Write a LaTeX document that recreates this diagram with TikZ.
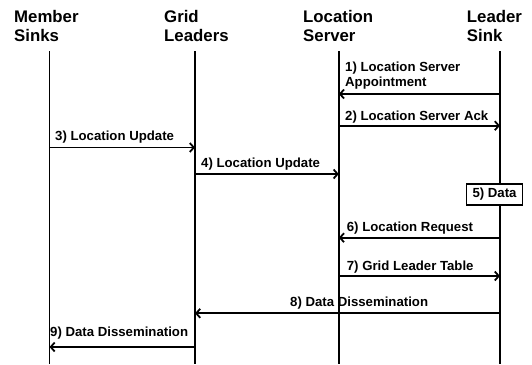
\documentclass[tikz,border=0pt]{standalone}
\usepackage{fontspec}
\setmainfont{Liberation Sans}
\usetikzlibrary{positioning,calc,arrows.meta}

\begin{document}
\begin{tikzpicture}[x=1pt,y=-1pt]
\tikzstyle{head}=[anchor=base west,inner sep=0pt,align=left,font=\bfseries\fontsize{16.8}{19}\selectfont]
\tikzstyle{lbl}=[anchor=base west,inner sep=0pt,align=left,font=\bfseries\fontsize{13.2}{15.5}\selectfont]
\tikzstyle{life}=[line width=1.8pt]
\tikzstyle{msg}=[line width=1.8pt,-{Straight Barb[length=4pt,width=9pt,line width=1.8pt]}]
\useasboundingbox (0,0) rectangle (532,364);

% headers (base = last line)
\node[head] (ms) at (14,41.7) {Member\\Sinks};
\node[head] (gl) at (164,41.7) {Grid\\Leaders};
\node[head] (ls) at (303,41.7) {Location\\Server};
\node[head] (lk) at (466.7,41.7) {Leader\\Sink};

% lifelines
\coordinate (mstop) at (49.5,51);  \coordinate (msbot) at (49.5,364);
\coordinate (gltop) at (195,51);   \coordinate (glbot) at (195,364);
\coordinate (lstop) at (338.8,51); \coordinate (lsbot) at (338.8,364);
\coordinate (lktop) at (500,51);   \coordinate (lkbot) at (500,364);
\draw[life] (mstop) -- (msbot);
\draw[life] (gltop) -- (glbot);
\draw[life] (lstop) -- (lsbot);
\draw[life] (lktop) -- (lkbot);

% messages
\draw[msg] (lktop |- 0,94) -- (lstop |- 0,94);
\node[lbl] (m1) at (345,86.5) {1) Location Server\\Appointment};

\draw[msg] (lstop |- 0,125.7) -- (lktop |- 0,125.7);
\node[lbl] (m2) at (345,120.7) {2) Location Server Ack};

\draw[msg] (mstop |- 0,147.5) -- (gltop |- 0,147.5);
\node[lbl] (m3) at (55,140.3) {3) Location Update};

\draw[msg] (gltop |- 0,174) -- (lstop |- 0,174);
\node[lbl] (m4) at (201,167) {4) Location Update};

\node[draw,line width=1.2pt,fill=white,minimum width=56pt,minimum height=21pt,inner sep=0pt,
      font=\bfseries\fontsize{13.2}{14}\selectfont] (m5) at (494.5,194.5) {5) Data};

\draw[msg] (lktop |- 0,237.7) -- (lstop |- 0,237.7);
\node[lbl] (m6) at (346.7,231.7) {6) Location Request};

\draw[msg] (lstop |- 0,276) -- (lktop |- 0,276);
\node[lbl] (m7) at (346.7,270) {7) Grid Leader Table};

\draw[msg] (lktop |- 0,313.3) -- (gltop |- 0,313.3);
\node[lbl] (m8) at (290,306.7) {8) Data Dissemination};

\draw[msg] (gltop |- 0,347) -- (mstop |- 0,347);
\node[lbl] (m9) at (50,336.7) {9) Data Dissemination};

\end{tikzpicture}
\end{document}
